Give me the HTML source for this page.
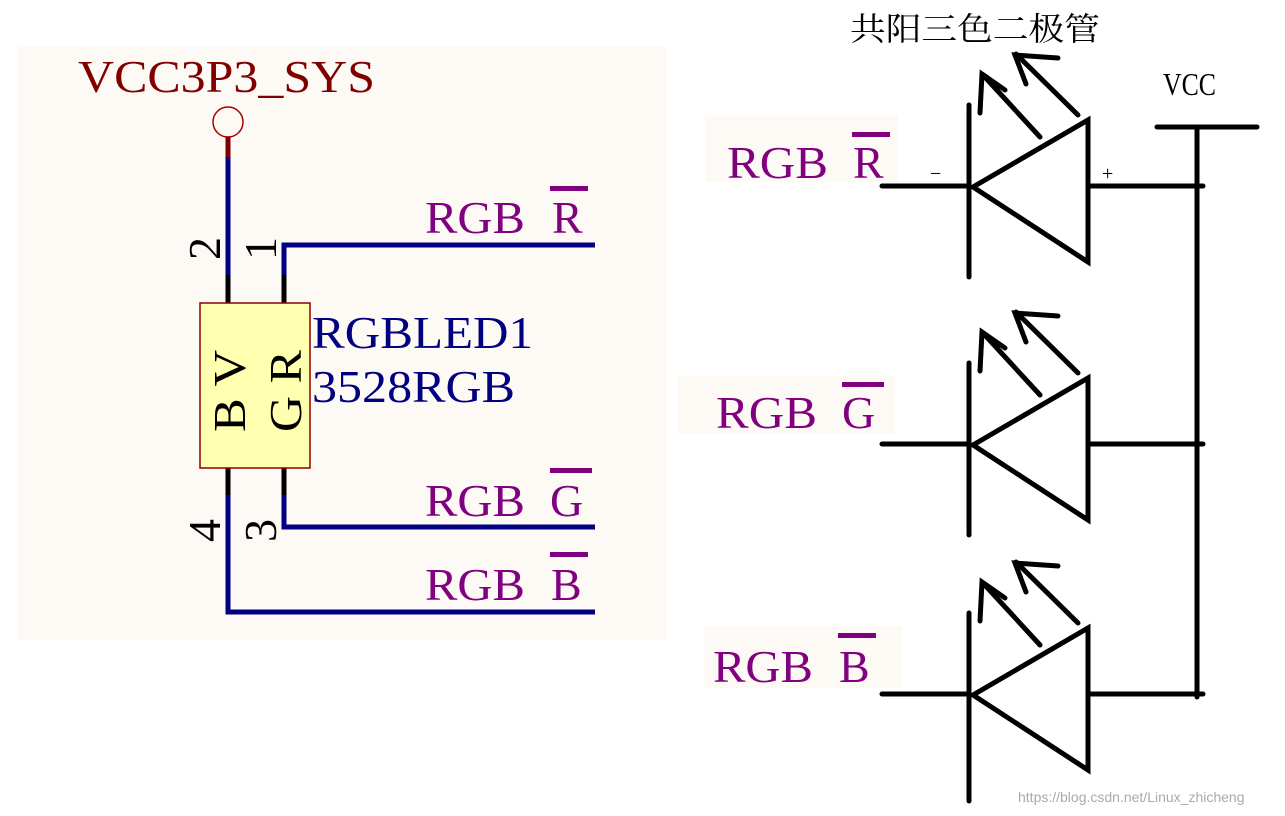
<!DOCTYPE html><html><head><meta charset="utf-8"><style>body{margin:0;background:#fff}svg{display:block}</style></head><body>
<svg width="1285" height="816" xmlns="http://www.w3.org/2000/svg" font-family="Liberation Serif, serif">
<rect x="17" y="47" width="650" height="593" fill="#fdfaf5"/>
<text x="78" y="92" font-size="46" fill="#800000" textLength="297" lengthAdjust="spacingAndGlyphs">VCC3P3_SYS</text>
<circle cx="228" cy="122" r="15" fill="none" stroke="#a00" stroke-width="1.5"/>
<g stroke-width="5" fill="none">
<line x1="228" y1="137" x2="228" y2="158" stroke="#800000"/>
<line x1="228" y1="157" x2="228" y2="276" stroke="#000080"/>
<line x1="228" y1="275" x2="228" y2="303" stroke="#000"/>
<polyline points="284,276 284,245 595,245" stroke="#000080"/>
<line x1="284" y1="275" x2="284" y2="303" stroke="#000"/>
<line x1="228" y1="468" x2="228" y2="496" stroke="#000"/>
<polyline points="228,495 228,612 595,612" stroke="#000080"/>
<line x1="284" y1="468" x2="284" y2="496" stroke="#000"/>
<polyline points="284,495 284,527 595,527" stroke="#000080"/>
</g>
<rect x="200" y="303" width="110" height="165" fill="#ffffb0" stroke="#8b0000" stroke-width="1.5"/>
<g font-size="46" fill="#000">
<text transform="translate(220,260) rotate(-90)">2</text>
<text transform="translate(276,260) rotate(-90)">1</text>
<text transform="translate(220,542) rotate(-90)">4</text>
<text transform="translate(276,542) rotate(-90)">3</text>
<text transform="translate(245,432) rotate(-90)" textLength="82" lengthAdjust="spacingAndGlyphs">B V</text>
<text transform="translate(301,432) rotate(-90)" textLength="82" lengthAdjust="spacingAndGlyphs">G R</text>
</g>
<text x="312" y="348" font-size="46" fill="#000080" textLength="221" lengthAdjust="spacingAndGlyphs">RGBLED1</text>
<text x="312" y="402" font-size="46" fill="#000080" textLength="203" lengthAdjust="spacingAndGlyphs">3528RGB</text>
<g font-size="46" fill="#800080">
<text x="425" y="233" textLength="100" lengthAdjust="spacingAndGlyphs">RGB</text><text x="552" y="233">R</text><rect x="550" y="186" width="38" height="5"/>
<text x="425" y="516" textLength="100" lengthAdjust="spacingAndGlyphs">RGB</text><text x="550" y="516">G</text><rect x="550" y="468" width="42" height="5"/>
<text x="425" y="600" textLength="100" lengthAdjust="spacingAndGlyphs">RGB</text><text x="551" y="600">B</text><rect x="550" y="552" width="38" height="5"/>
</g>
<rect x="705" y="116" width="193" height="66" fill="#fdfaf5"/>
<rect x="677" y="376" width="218" height="58" fill="#fdfaf5"/>
<rect x="704" y="626" width="198" height="62" fill="#fdfaf5"/>
<g font-size="46" fill="#800080">
<text x="727" y="178" textLength="101" lengthAdjust="spacingAndGlyphs">RGB</text><text x="853" y="178">R</text><rect x="852" y="132" width="38" height="5"/>
<text x="716" y="428" textLength="101" lengthAdjust="spacingAndGlyphs">RGB</text><text x="842" y="428">G</text><rect x="842" y="382" width="42" height="5"/>
<text x="713" y="682" textLength="100" lengthAdjust="spacingAndGlyphs">RGB</text><text x="839" y="682">B</text><rect x="838" y="633" width="38" height="5"/>
</g>
<text x="850" y="40" font-size="32" font-family="Liberation Serif, Noto Serif CJK SC, serif" fill="#000" textLength="250" lengthAdjust="spacingAndGlyphs">共阳三色二极管</text>
<text x="1163" y="95" font-size="32" fill="#000" textLength="53" lengthAdjust="spacingAndGlyphs">VCC</text>
<text x="930" y="180" font-size="20" fill="#000">−</text>
<text x="1102" y="180" font-size="20" fill="#000">+</text>
<g stroke="#000" stroke-width="5" fill="none" stroke-linecap="round">
<line x1="1157" y1="127" x2="1257" y2="127"/>
<line x1="1197" y1="127" x2="1197" y2="697"/>
<g id="d">
<line x1="969" y1="105" x2="969" y2="277"/>
<polygon points="973,187 1088,120 1088,262"/>
<line x1="882" y1="186" x2="969" y2="186"/>
<line x1="1088" y1="186" x2="1203" y2="186"/>
<line x1="1040" y1="137" x2="983" y2="75"/>
<polyline points="980,113 982,74 1005,90"/>
<line x1="1078" y1="115" x2="1016" y2="54"/>
<polyline points="1026,84 1015,55 1058,58"/>
</g>
<use href="#d" transform="translate(0,258)"/>
<use href="#d" transform="translate(0,508)"/>
<line x1="969" y1="780" x2="969" y2="801"/>
</g>
<text x="1018" y="802" font-size="14" fill="#aaa" font-family="Liberation Sans, sans-serif">https://blog.csdn.net/Linux_zhicheng</text>
</svg>
</body></html>
